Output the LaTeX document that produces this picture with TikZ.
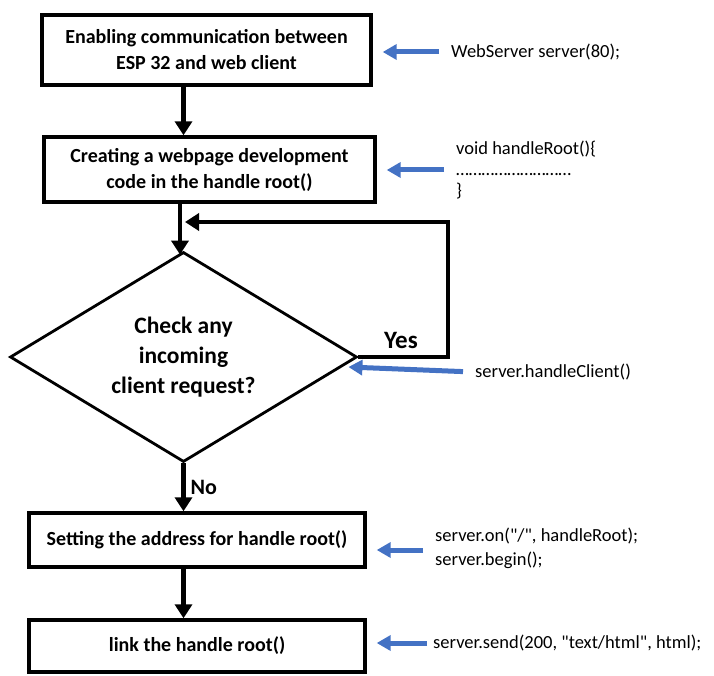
\documentclass[tikz,border=0pt]{standalone}
\usepackage{fontspec}
\setmainfont{Carlito}
\usetikzlibrary{positioning,shapes.geometric,arrows.meta}
\definecolor{noteblue}{RGB}{68,114,196}

\tikzset{
  stepbox/.style={draw, line width=3.4pt, align=center, inner sep=0pt,
    font=\bfseries\fontsize{20}{26}\selectfont},
  decision/.style={draw, diamond, line width=2.8pt, align=center, inner sep=0pt,
    aspect=1.65, font=\bfseries\fontsize{23.5}{30}\selectfont},
  flow/.style={line width=4.4pt, -{Triangle[length=14pt,width=17pt]}},
  note/.style={draw=noteblue, line width=5pt, -{Triangle[length=14pt,width=15pt]},
    shorten <=10pt, shorten >=10pt},
  code/.style={anchor=west, align=left, inner sep=2pt,
    font=\fontsize{18.5}{24}\selectfont},
  branch/.style={font=\bfseries\fontsize{25}{26}\selectfont}
}

\begin{document}
\begin{tikzpicture}[x=1pt, y=-1pt]
  \useasboundingbox (0,0) rectangle (714,676);

  % main column
  \node[stepbox, minimum width=329pt, minimum height=70pt] (conn) at (206.5,50)
    {Enabling communication between\\ESP 32 and web client};
  \node[stepbox, minimum width=331pt, minimum height=65pt] (page) at (209.5,169.5)
    {Creating a webpage development\\code in the handle root()};
  \node[decision, minimum width=347pt, minimum height=210pt] (check) at (183.5,357)
    {Check any\\incoming\\client request?};
  \node[stepbox, minimum width=336pt, minimum height=54pt] (addr) at (197,540)
    {Setting the address for handle root()};
  \node[stepbox, minimum width=336pt, minimum height=52pt] (link) at (197,646)
    {link the handle root()};

  \coordinate (drop) at (180,0);
  \draw[flow] (conn.south -| check.north) -- (page.north -| check.north);
  \draw[flow] (page.south -| drop) -- ([yshift=-4pt]check.north -| drop);
  \coordinate (loop) at (448,222);
  \coordinate (merge) at (185,222);
  \draw[flow] (check.east) -| (loop) -- (merge);
  \node[branch] (yes) at (401,340) {Yes};
  \draw[flow] (check.south) -- (addr.north -| check.south);
  \node[branch, anchor=west, font=\bfseries\fontsize{22}{24}\selectfont] (no) at (187,487) {No};
  \draw[flow] (addr.south -| check.south) -- (link.north -| check.south);

  % code notes
  \node[code] (c1) at (449,52) {WebServer server(80);};
  \node[code] (c2) at (454,170) {void handleRoot()\{\\[-3pt]\ldots\ldots\ldots\ldots\ldots\ldots\ldots\ldots\ldots\\[-3pt]\}};
  \node[code] (c3) at (473,372) {server.handleClient()};
  \node[code] (c4) at (433,548) {server.on(\textquotedbl/\textquotedbl, handleRoot);\\server.begin();};
  \node[code] (c5) at (431,643) {server.send(200, \textquotedbl text/html\textquotedbl, html);};

  \draw[note] (c1.west) -- (c1.west -| conn.east);
  \draw[note] (c2.west) -- (c2.west -| page.east);
  \draw[note, shorten >=0pt] (c3.west) -- ([shift={(-10,10)}]check.east);
  \draw[note] ([yshift=-2pt]c4.west) -- ([yshift=-2pt]c4.west -| addr.east);
  \draw[note, shorten <=4pt] (c5.west) -- (c5.west -| link.east);
\end{tikzpicture}
\end{document}
